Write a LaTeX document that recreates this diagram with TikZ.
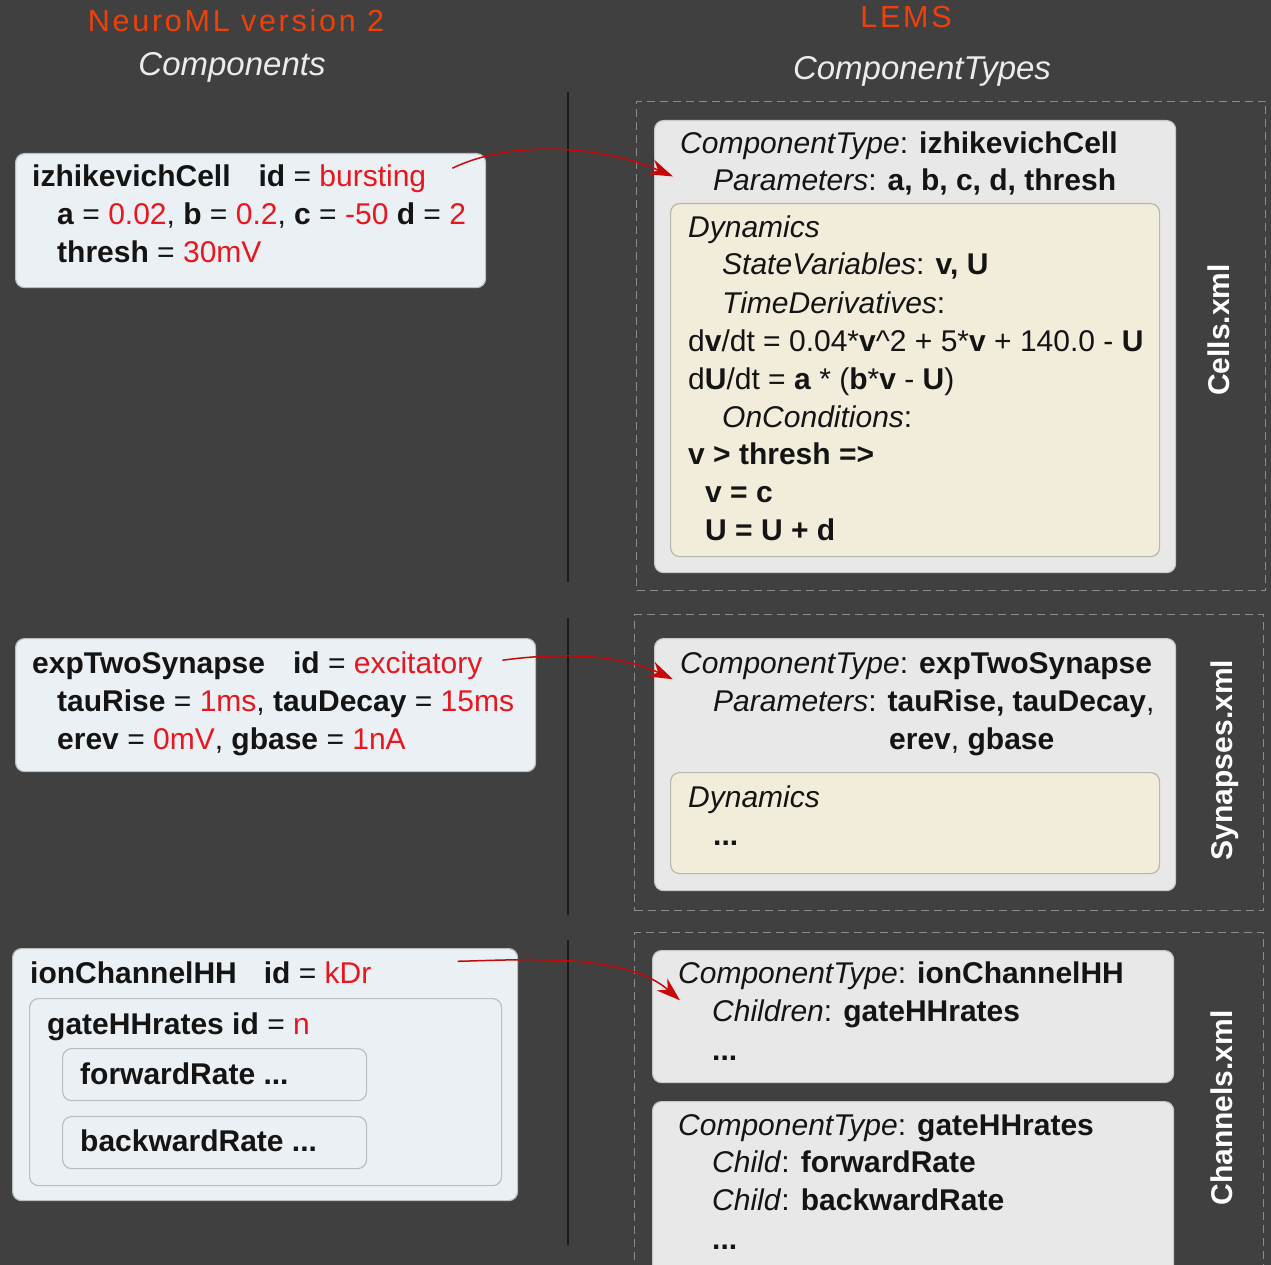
\documentclass[tikz,border=0pt]{standalone}
\usepackage{fontspec}
\setmainfont{Liberation Sans}
\newfontfamily\headfont[LetterSpace=9]{Liberation Sans}
\usetikzlibrary{arrows.meta,calc}
\definecolor{bgcol}{RGB}{64,64,64}
\definecolor{ink}{RGB}{20,20,20}
\definecolor{valred}{RGB}{232,22,30}
\definecolor{arrowred}{RGB}{200,8,8}
\definecolor{headred}{RGB}{240,64,10}
\definecolor{headwhite}{RGB}{236,236,236}
\definecolor{lfill}{RGB}{234,240,243}
\definecolor{lbord}{RGB}{185,190,192}
\definecolor{rfill}{RGB}{232,232,232}
\definecolor{rbord}{RGB}{200,200,200}
\definecolor{dfill}{RGB}{242,236,218}
\definecolor{dbord}{RGB}{185,182,172}
\definecolor{dashcol}{RGB}{140,140,140}
\definecolor{divcol}{RGB}{26,26,26}
\newcommand\redval[1]{\textcolor{valred}{#1}}
\begin{document}
\begin{tikzpicture}[x=1pt,y=-1pt,
  txt/.style={anchor=base west, inner sep=0pt, text=ink, font=\fontsize{30}{36}\selectfont},
  headA/.style={anchor=base, inner sep=0pt, text=headred, font=\headfont\fontsize{30.5}{36}\selectfont},
  headB/.style={anchor=base, inner sep=0pt, text=headwhite, font=\fontsize{33}{40}\selectfont\itshape},
  boxbase/.style={anchor=north west, inner sep=0pt, rounded corners=9pt, line width=1.2pt},
  leftbox/.style={boxbase, draw=lbord, fill=lfill},
  rightbox/.style={boxbase, draw=rbord, fill=rfill},
  dynbox/.style={boxbase, draw=dbord, fill=dfill},
  filebox/.style={anchor=north west, inner sep=0pt, draw=dashcol, dash pattern=on 8pt off 5pt, line width=1pt},
  filelabel/.style={anchor=base, rotate=90, inner sep=0pt, text=white, font=\fontsize{30}{36}\selectfont\bfseries},
  divider/.style={draw=divcol, line width=2.4pt},
  redarrow/.style={draw=arrowred, line width=1.5pt, -{Stealth[length=24pt,width=16pt]}}
]
\useasboundingbox (0,0) rectangle (1271,1265);
\clip (0,0) rectangle (1271,1265);
\fill[bgcol] (0,0) rectangle (1271,1265);

% headers
\node[headA] (hneuro) at (236,32) {NeuroML version 2};
\node[headB] (hcomp) at (232,76) {Components};
\node[headA] (hlems) at (906,28) {LEMS};
\node[headB] (hctypes) at (922,80) {ComponentTypes};

% dividers
\coordinate (d1t) at (568,92);  \coordinate (d1b) at (568,582);
\coordinate (d2t) at (568,618); \coordinate (d2b) at (568,915);
\coordinate (d3t) at (568,940); \coordinate (d3b) at (568,1245);
\draw[divider] (d1t) -- (d1b);
\draw[divider] (d2t) -- (d2b);
\draw[divider] (d3t) -- (d3b);

% file boxes
\node[filebox, minimum width=629, minimum height=489] (fcells) at (636,101) {};
\node[filebox, minimum width=629, minimum height=296] (fsyn) at (634,614) {};
\node[filebox, minimum width=629, minimum height=360] (fchan) at (634,932) {};
\node[filelabel] (lcells) at (1229,330) {Cells.xml};
\node[filelabel] (lsyn) at (1232,760) {Synapses.xml};
\node[filelabel] (lchan) at (1232,1108) {Channels.xml};

% left: izhikevich
\node[leftbox, minimum width=470, minimum height=134] (izbox) at (15,153) {};
\node[txt] (iz1) at (32,187) {\textbf{izhikevichCell}\hspace{28pt}\textbf{id} = \redval{bursting}};
\node[txt] (iz2) at (57,225) {\textbf{a} = \redval{0.02}, \textbf{b} = \redval{0.2}, \textbf{c} = \redval{-50} \textbf{d} = \redval{2}};
\node[txt] (iz3) at (57,263) {\textbf{thresh} = \redval{30mV}};

% left: expTwoSynapse
\node[leftbox, minimum width=520, minimum height=133] (synbox) at (15,638) {};
\node[txt] (sy1) at (32,673) {\textbf{expTwoSynapse}\hspace{28pt}\textbf{id} = \redval{excitatory}};
\node[txt] (sy2) at (57,711) {\textbf{tauRise} = \redval{1ms}, \textbf{tauDecay} = \redval{15ms}};
\node[txt] (sy3) at (57,749) {\textbf{erev} = \redval{0mV}, \textbf{gbase} = \redval{1nA}};

% left: ionChannelHH
\node[leftbox, minimum width=505, minimum height=252] (chbox) at (12,948) {};
\node[txt] (ch1) at (30,983) {\textbf{ionChannelHH}\hspace{27pt}\textbf{id} = \redval{kDr}};
\node[leftbox, minimum width=472, minimum height=187] (gatebox) at (29,998) {};
\node[txt] (ga1) at (47,1034) {\textbf{gateHHrates id} = \redval{n}};
\node[leftbox, minimum width=304, minimum height=52] (fwbox) at (62,1048) {};
\node[txt] (fw1) at (80,1084) {\textbf{forwardRate ...}};
\node[leftbox, minimum width=304, minimum height=52] (bwbox) at (62,1116) {};
\node[txt] (bw1) at (80,1151) {\textbf{backwardRate ...}};

% right: izhikevichCell type
\node[rightbox, minimum width=521, minimum height=452] (ctiz) at (654,120) {};
\node[txt] (ctiz1) at (680,154) {\textit{ComponentType}: \textbf{izhikevichCell}};
\node[txt] (ctiz2) at (713,191) {\textit{Parameters}: \textbf{a, b, c, d, thresh}};
\node[dynbox, minimum width=489, minimum height=353] (dyniz) at (670,203) {};
\node[txt] (dz1) at (688,238) {\textit{Dynamics}};
\node[txt] (dz2) at (722,275) {\textit{StateVariables}: \textbf{v, U}};
\node[txt] (dz3) at (722,313) {\textit{TimeDerivatives}:};
\node[txt] (dz4) at (688,351) {d\textbf{v}/dt = 0.04*\textbf{v}\textasciicircum 2 + 5*\textbf{v} + 140.0 - \textbf{U}};
\node[txt] (dz5) at (688,389) {d\textbf{U}/dt = \textbf{a} * (\textbf{b}*\textbf{v} - \textbf{U})};
\node[txt] (dz6) at (722,427) {\textit{OnConditions}:};
\node[txt] (dz7) at (688,464) {\textbf{v > thresh =>}};
\node[txt] (dz8) at (705,502) {\textbf{v = c}};
\node[txt] (dz9) at (705,540) {\textbf{U = U + d}};

% right: expTwoSynapse type
\node[rightbox, minimum width=521, minimum height=252] (ctsy) at (654,638) {};
\node[txt] (ctsy1) at (680,673) {\textit{ComponentType}: \textbf{expTwoSynapse}};
\node[txt] (ctsy2) at (713,711) {\textit{Parameters}: \textbf{tauRise, tauDecay},};
\node[txt] (ctsy3) at (889,749) {\textbf{erev}, \textbf{gbase}};
\node[dynbox, minimum width=489, minimum height=101] (dynsy) at (670,772) {};
\node[txt] (ds1) at (688,807) {\textit{Dynamics}};
\node[txt] (ds2) at (713,845) {\textbf{...}};

% right: ionChannelHH type
\node[rightbox, minimum width=521, minimum height=132] (ctch) at (652,950) {};
\node[txt] (ctch1) at (678,983) {\textit{ComponentType}: \textbf{ionChannelHH}};
\node[txt] (ctch2) at (712,1021) {\textit{Children}: \textbf{gateHHrates}};
\node[txt] (ctch3) at (712,1060) {\textbf{...}};

% right: gateHHrates type
\node[rightbox, minimum width=521, minimum height=200] (ctga) at (652,1101) {};
\node[txt] (ctga1) at (678,1135) {\textit{ComponentType}: \textbf{gateHHrates}};
\node[txt] (ctga2) at (712,1172) {\textit{Child}: \textbf{forwardRate}};
\node[txt] (ctga3) at (712,1210) {\textit{Child}: \textbf{backwardRate}};
\node[txt] (ctga4) at (712,1249) {\textbf{...}};

% arrows
\coordinate (a1s) at ($(iz1.east)+(26,-11)$);
\coordinate (a1e) at ($(ctiz2.west)+(-40,-6)$);
\draw[redarrow] (a1s) .. controls (510,140) and (600,145) .. (a1e);
\coordinate (a2s) at ($(sy1.east)+(20,-5)$);
\coordinate (a2e) at ($(ctsy2.west)+(-40,-24)$);
\draw[redarrow] (a2s) .. controls (540,655) and (610,650) .. (a2e);
\coordinate (a3s) at ($(ch1.east)+(86,-11)$);
\coordinate (a3e) at ($(ctch2.west)+(-32,-13)$);
\draw[redarrow] (a3s) .. controls (520,960) and (625,952) .. (a3e);
\end{tikzpicture}
\end{document}
